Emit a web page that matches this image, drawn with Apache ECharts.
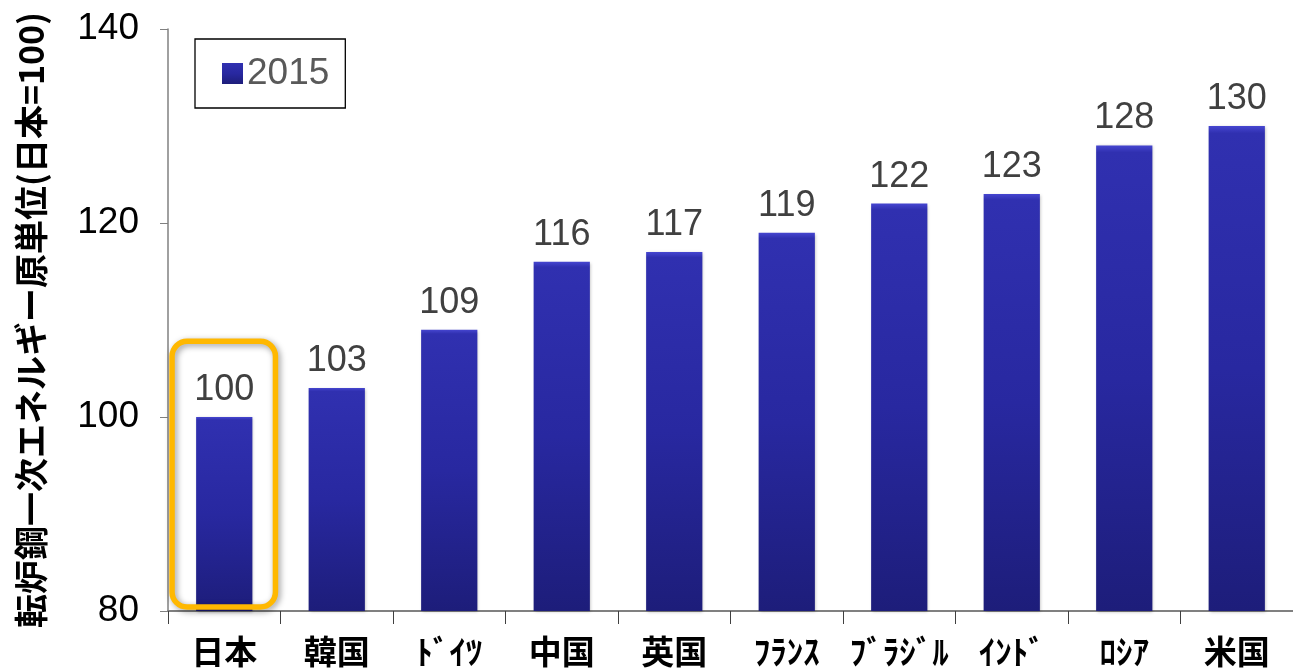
<!DOCTYPE html>
<html><head><meta charset="utf-8">
<script src="https://cdn.jsdelivr.net/npm/echarts@6/dist/echarts.min.js"></script>
<style>html,body{margin:0;padding:0;background:#fff}#c{width:1293px;height:668px}</style>
</head><body><div id="c"></div>
<script>
const categories = ['日本','韓国','ﾄﾞｲﾂ','中国','英国','ﾌﾗﾝｽ','ﾌﾞﾗｼﾞﾙ','ｲﾝﾄﾞ','ﾛｼｱ','米国'];
const values2015 = [100,103,109,116,117,119,122,123,128,130];
const seriesName = '2015';
const yAxisName = '転炉鋼一次エネルギー原単位(日本=100)';
const yTicks = {min:80, max:140, interval:20};
const highlight = {category:'日本', top:107.8, bottom:80};

const chart = echarts.init(document.getElementById('c'), null, {renderer:'canvas'});
const barColor = new echarts.graphic.LinearGradient(0,0,0,1,[
  {offset:0, color:'#4646d0'},
  {offset:0.015, color:'#3030b0'},
  {offset:0.5, color:'#2828a0'},
  {offset:1, color:'#1d1d7a'}
]);
chart.setOption({
  animation:false,
  grid:{left:168, top:29, width:1134, height:584, containLabel:false},
  legend:{
    left:195, top:39, padding:[16,16,16,27],
    borderColor:'#000', borderWidth:1.3,
    itemWidth:21, itemHeight:21, itemGap:6,
    textStyle:{fontSize:37, color:'#595959', fontFamily:'Liberation Sans, Arial, sans-serif', padding:[0,0,0,-1]},
    data:[{name:seriesName, icon:'rect'}]
  },
  xAxis:{
    type:'category', data:categories,
    axisLine:{lineStyle:{color:'#808080', width:2}},
    axisTick:{show:true, length:13, lineStyle:{color:'#404040', width:1}},
    axisLabel:{fontSize:33, fontWeight:'bold', color:'#000', margin:24,
      fontFamily:'Noto Sans CJK JP, sans-serif', interval:0}
  },
  yAxis:{
    type:'value', min:yTicks.min, max:yTicks.max, interval:yTicks.interval,
    name:yAxisName, nameLocation:'middle', nameGap:120, nameRotate:90,
    nameTextStyle:{fontSize:34, fontWeight:'bold', color:'#000', fontFamily:'Noto Sans CJK JP, sans-serif'},
    axisLine:{show:true, lineStyle:{color:'#808080', width:1.5}},
    axisTick:{show:true, length:8, lineStyle:{color:'#808080'}},
    splitLine:{show:false},
    axisLabel:{fontSize:37, color:'#000', margin:29, fontFamily:'Liberation Sans, Arial, sans-serif'}
  },
  series:[{
    name:seriesName, type:'bar', data:values2015, barWidth:'50%',
    itemStyle:{color:barColor, shadowColor:'rgba(0,0,0,0.25)', shadowBlur:3, shadowOffsetX:1, shadowOffsetY:1},
    label:{show:true, position:'top', distance:9, fontSize:36, color:'#404040',
      fontFamily:'Liberation Sans, Arial, sans-serif'}
  }]
});
// highlight box around Japan, derived from axis scales
const idx = categories.indexOf(highlight.category);
const c0 = chart.convertToPixel({gridIndex:0}, [idx, highlight.top]);
const c1 = chart.convertToPixel({gridIndex:0}, [idx, highlight.bottom]);
const band = 1134/categories.length;
chart.setOption({graphic:[{
  type:'rect', z:100,
  shape:{x:c0[0]-band/2+4.5, y:c0[1], width:band-10, height:c1[1]-c0[1]-4, r:15},
  style:{fill:'none', stroke:'#FFB800', lineWidth:5.5, shadowColor:'rgba(0,0,0,0.4)', shadowBlur:6, shadowOffsetX:2, shadowOffsetY:2}
}]});
</script></body></html>
